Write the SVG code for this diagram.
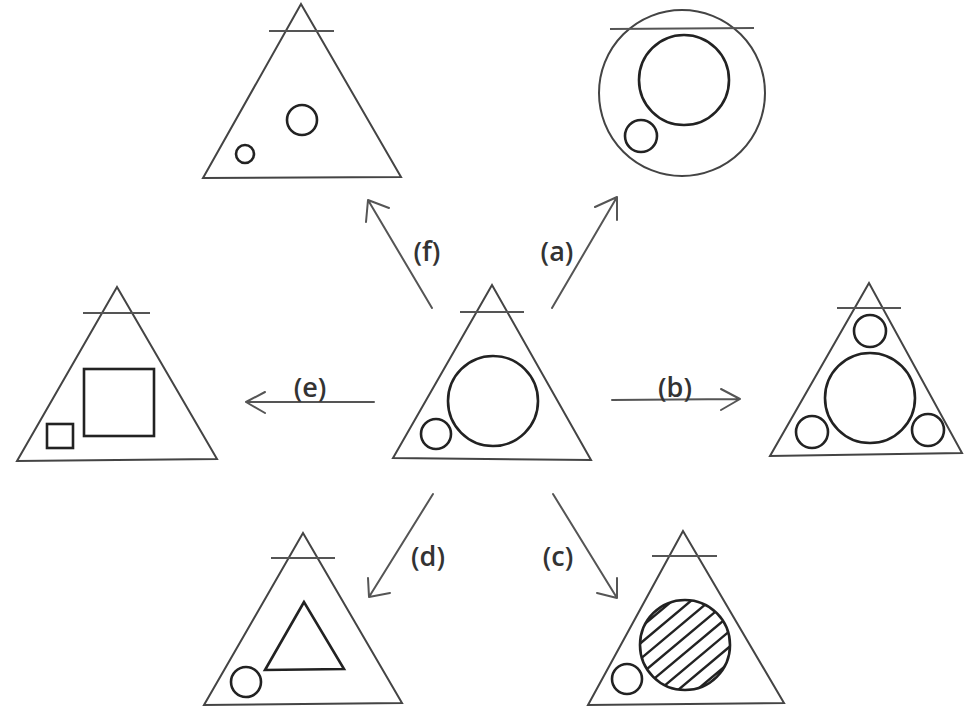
<svg xmlns="http://www.w3.org/2000/svg" width="964" height="712" viewBox="0 0 964 712">
<style>
.tri{fill:none;stroke:#444;stroke-width:2;stroke-linejoin:miter}
.bar{fill:none;stroke:#555;stroke-width:2}
.in{fill:none;stroke:#222;stroke-width:2.6}
.arr{fill:none;stroke:#555;stroke-width:2;stroke-linecap:round;stroke-linejoin:round}
.lbl{font-family:"Open Sans","Noto Sans",sans-serif;font-size:27px;font-weight:600;fill:#333;text-anchor:middle}
.hatch{stroke:#222;stroke-width:2.4}
</style>
<defs>
<clipPath id="hc"><circle cx="685" cy="645" r="45"/></clipPath>
</defs>
<rect width="964" height="712" fill="#fff"/>

<g id="node-center">
<polygon class="tri" points="492,285 393,458 591,460"/>
<line class="bar" x1="460" y1="312" x2="524" y2="312"/>
<circle class="in" cx="493" cy="401" r="45"/>
<circle class="in" cx="436" cy="434" r="15"/>
</g>

<g id="node-f">
<polygon class="tri" points="301,4 203,178 401,177"/>
<line class="bar" x1="269" y1="31" x2="334" y2="31"/>
<circle class="in" cx="302" cy="120" r="15"/>
<circle class="in" cx="245" cy="154" r="9"/>
</g>

<g id="node-a">
<circle class="tri" cx="682" cy="93" r="83"/>
<line class="bar" x1="610" y1="29" x2="754" y2="28"/>
<circle class="in" cx="684" cy="80" r="45"/>
<circle class="in" cx="641" cy="136" r="16"/>
</g>

<g id="node-b">
<polygon class="tri" points="869,283 770,456 962,453"/>
<line class="bar" x1="837" y1="308" x2="901" y2="308"/>
<circle class="in" cx="870" cy="331" r="16"/>
<circle class="in" cx="870" cy="398" r="45"/>
<circle class="in" cx="812" cy="432" r="16"/>
<circle class="in" cx="928" cy="430" r="16"/>
</g>

<g id="node-e">
<polygon class="tri" points="117,287 17,461 217,459"/>
<line class="bar" x1="83" y1="313" x2="150" y2="313"/>
<rect class="in" x="84" y="369" width="70" height="67"/>
<rect class="in" x="47" y="424" width="26" height="24"/>
</g>

<g id="node-d">
<polygon class="tri" points="303,533 204,705 402,703"/>
<line class="bar" x1="271" y1="558" x2="335" y2="558"/>
<polygon class="in" points="304,602 265,670 344,669"/>
<circle class="in" cx="246" cy="682" r="15"/>
</g>

<g id="node-c">
<polygon class="tri" points="683,531 588,705 784,703"/>
<line class="bar" x1="652" y1="556" x2="717" y2="556"/>
<g clip-path="url(#hc)">
<g transform="rotate(-40 685 645)">
<line class="hatch" x1="630" y1="603" x2="740" y2="603"/>
<line class="hatch" x1="630" y1="615" x2="740" y2="615"/>
<line class="hatch" x1="630" y1="627" x2="740" y2="627"/>
<line class="hatch" x1="630" y1="639" x2="740" y2="639"/>
<line class="hatch" x1="630" y1="651" x2="740" y2="651"/>
<line class="hatch" x1="630" y1="663" x2="740" y2="663"/>
<line class="hatch" x1="630" y1="675" x2="740" y2="675"/>
<line class="hatch" x1="630" y1="687" x2="740" y2="687"/>
</g>
</g>
<circle class="in" cx="685" cy="645" r="45"/>
<circle class="in" cx="627" cy="679" r="15"/>
</g>

<g id="connectors">
<path class="arr" d="M432,308 L368,200 M366,222 L368,200 L389,208"/>
<path class="arr" d="M552,308 L617,197 M617,220 L617,197 L595,207"/>
<path class="arr" d="M374,402 L246,402 M265,392 L246,402 L265,413"/>
<path class="arr" d="M612,400 L740,399 M721,389 L740,399 L721,410"/>
<path class="arr" d="M433,494 L369,597 M368,578 L369,597 L390,593"/>
<path class="arr" d="M553,494 L617,598 M617,578 L617,598 L597,593"/>
</g>

<g id="labels">
<text class="lbl" x="427" y="261">(f)</text>
<text class="lbl" x="557" y="261">(a)</text>
<text class="lbl" x="310" y="397">(e)</text>
<text class="lbl" x="675" y="397">(b)</text>
<text class="lbl" x="428" y="566">(d)</text>
<text class="lbl" x="558" y="566">(c)</text>
</g>
</svg>
